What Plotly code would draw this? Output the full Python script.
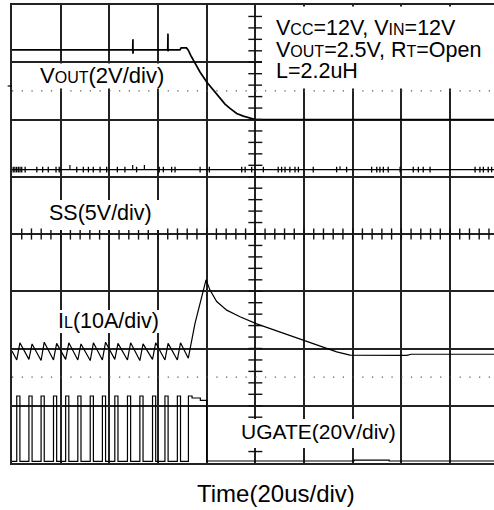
import numpy as np
import plotly.graph_objects as go

# ---------------- data ----------------
# time in microseconds (20 us/div, trigger at screen centre)
VOUT_T = [-100, -50.4, -50.3, -50.3, -50.2, -36.0, -35.9, -35.9, -35.8, -31.0, -30.5,
          -28.3, -27.55, -26.56, -24.79, -22.74, -19.99, -17.27, -14.52, -12.46,
          -10.41, -7.66, -4.94, -2.89, 0.0, 98.1]
VOUT_V = [2.43, 2.43, 2.80, 2.30, 2.43, 2.43, 3.00, 2.38, 2.43, 2.43, 2.50,
          2.50, 2.42, 2.24, 1.95, 1.66, 1.31, 1.02, 0.73, 0.54,
          0.39, 0.21, 0.12, 0.06, 0.0, 0.0]

SS_T = [-100, 98.1]
SS_V = [0.0, 0.0]
SS_NOISE_T = [-99.5, -98.8, -98.1, -97.4, -96.7, -96.0, -94.6, -89.8, -87.4, -85.1, -81.9,
              -80.6, -73.4, -70.7, -68.6, -66.6, -63.8, -61.1, -56.7, -53.6, -48.8, -39.5,
              -37.8, -34.4, -33.0, -22.7, -18.9, -5.6, -4.2, -1.5, 3.3, 9.4, 10.8, 12.2,
              14.2, 16.3, 17.7, 23.8, 33.4, 37.5, 47.8, 49.9, 51.2, 52.6, 54.6, 59.5, 64.9,
              67.0, 69.0, 71.8, 90.3, 92.3, 93.7, 95.7, 97.1]
SS_SPIKE_T = [-76.2, -50.4, -45.6, 34.8]
SS_SPIKE_V = [0.4, 0.4, 0.4, 0.3]

UGATE_RISE_T = [-98.05, -93.05, -88.05, -82.95, -77.95, -72.95, -67.85, -62.85, -57.75,
                -52.55, -47.45, -42.25, -37.15, -32.05]
UGATE_FALL_T = [-96.75, -91.75, -86.75, -81.65, -76.65, -71.65, -66.55, -61.55, -56.45,
                -51.25, -46.15, -40.95, -35.85, -30.75]
UGATE_HIGH_V = 22.8
UGATE_TAIL_T = [-27.5, -27.5, -26.0, -26.0, -22.6, -22.6, -20.0, -20.0, -19.8, 40.5, 40.5, 55.0, 55.0, 98.1]
UGATE_TAIL_V = [0.0, 22.8, 22.8, 22.1, 22.1, 21.3, 21.3, -0.2, 0.1, 0.1, 0.4, 0.4, 0.1, 0.1]

IL_START_A = 0.75
IL_VALLEY_A = [-0.8, -0.7, -0.9, -0.8, -0.7, -0.8, -0.9, -0.8, -0.7, -0.8, -0.9, -0.7, -0.8, -0.8]
IL_PEAK_A = [2.2, 2.0, 2.3, 2.1, 2.2, 2.0, 2.2, 2.3, 2.1, 2.2, 2.0, 2.2, 2.1, 2.2]
IL_TAIL_T = [-27.55, -24.79, -20.27, -18.63, -15.88, -11.77, -6.30, 0.56, 10.14, 19.71,
             26.58, 33.44, 38.91, 62.3, 64.0, 98.1]
IL_TAIL_A = [-0.5, 5.6, 13.2, 11.4, 9.4, 7.9, 6.75, 5.5, 4.1, 2.7, 1.6, 0.6, 0.05, 0.0, 0.2, 0.2]

# channel scale (units/div) and screen offset (div)
VOUT_SCALE, VOUT_OFF = 2.0, 2.0
SS_SCALE, SS_OFF = 5.0, 1.125
IL_SCALE, IL_OFF = 10.0, -2.12
UG_SCALE, UG_OFF = 20.0, -3.97

# ---------------- build ----------------
def to_div(vals, scale, off):
    return [None if v is None else off + v / scale for v in vals]

X_MAX = 98.08
PXX = 2.4334      # px per us
PXY = 57.25       # px per div


def tx(px):
    return (px - 255.33) / PXX


def dy(py):
    return (234 - py) / PXY


fig = go.Figure()
LINE = dict(color="black", width=1.2)

# SS
fig.add_trace(go.Scatter(x=SS_T, y=to_div(SS_V, SS_SCALE, SS_OFF), mode="lines",
                         line=dict(color="black", width=1.3)))
fig.add_trace(go.Scatter(x=SS_NOISE_T, y=to_div([0.0] * len(SS_NOISE_T), SS_SCALE, SS_OFF),
                         mode="markers",
                         marker=dict(symbol="line-ns", size=4, line=dict(color="black", width=1.3))))
sx, sy = [], []
for t, v in zip(SS_SPIKE_T, SS_SPIKE_V):
    sx += [t, t, None]
    sy += [0.0, v, None]
fig.add_trace(go.Scatter(x=sx, y=to_div(sy, SS_SCALE, SS_OFF), mode="lines", line=LINE))

# VOUT
fig.add_trace(go.Scatter(x=VOUT_T, y=to_div(VOUT_V, VOUT_SCALE, VOUT_OFF), mode="lines",
                         line=dict(color="black", width=1.7)))

# IL
il_t = [-100]
il_a = [IL_START_A]
for r, f, va, pk in zip(UGATE_RISE_T, UGATE_FALL_T, IL_VALLEY_A, IL_PEAK_A):
    il_t += [r, f]
    il_a += [va, pk]
il_t += IL_TAIL_T
il_a += IL_TAIL_A
fig.add_trace(go.Scatter(x=il_t, y=to_div(il_a, IL_SCALE, IL_OFF), mode="lines", line=LINE))

# UGATE
ug_t = [-100]
ug_v = [0.0]
for r, f in zip(UGATE_RISE_T, UGATE_FALL_T):
    ug_t += [r, r, f, f]
    ug_v += [0.0, UGATE_HIGH_V, UGATE_HIGH_V, 0.0]
ug_t += UGATE_TAIL_T
ug_v += UGATE_TAIL_V
fig.add_trace(go.Scatter(x=ug_t, y=to_div(ug_v, UG_SCALE, UG_OFF), mode="lines", line=LINE))

# graticule minor ticks on centre lines
hx = np.arange(-96, X_MAX, 4.0)
fig.add_trace(go.Scatter(x=hx, y=[0] * len(hx), mode="markers",
                         marker=dict(symbol="line-ns", size=8, line=dict(color="#111", width=1.4))))
vy = np.arange(-3.8, 3.81, 0.2)
fig.add_trace(go.Scatter(x=[0] * len(vy), y=vy, mode="markers",
                         marker=dict(symbol="line-ew", size=10, line=dict(color="#111", width=1.4))))

shapes = []
for yv in (2.5, -2.5):
    shapes.append(dict(type="line", xref="x", yref="y", x0=-100, x1=X_MAX, y0=yv, y1=yv,
                       line=dict(color="#555", width=1.2, dash="1.2px,8.53px"), layer="between"))
# channel marker on left edge
shapes.append(dict(type="line", xref="paper", yref="y", x0=-0.009, x1=0, y0=dy(86), y1=dy(86),
                   line=dict(color="black", width=1.2)))
# white label backgrounds
for (x0, x1, y0, y1) in [(36, 172, 63.5, 88.5), (42, 163, 200, 230), (52, 162, 310, 333),
                         (236, 399, 419, 448), (262, 494, 6.5, 88.5)]:
    shapes.append(dict(type="rect", xref="x", yref="y", x0=tx(x0), x1=tx(x1), y0=dy(y1), y1=dy(y0),
                       fillcolor="white", line=dict(width=0), layer="above"))

FONT = dict(family="Arial, Liberation Sans, sans-serif", size=21, color="black")
SM = '<span style="font-size:16px">%s</span>'
ann = []


def lab(text, px, py, size=21):
    ann.append(dict(text=text, x=tx(px), y=dy(py), xref="x", yref="y", xanchor="left",
                    yanchor="middle", showarrow=False, borderpad=0,
                    font=dict(FONT, size=size)))


lab("V" + SM % "OUT" + "(2V/div)", 39, 75, 22)
lab("SS(5V/div)", 48, 213, 21.5)
lab("I" + SM % "L" + "(10A/div)", 57, 321, 21.5)
lab("UGATE(20V/div)", 240, 431, 21)
lab("V" + SM % "CC" + "=12V, V" + SM % "IN" + "=12V", 275, 28, 21.5)
lab("V" + SM % "OUT" + "=2.5V, R" + SM % "T" + "=Open", 275, 49.5, 21.5)
lab("L=2.2uH", 275, 71, 21.5)
ann.append(dict(text="Time(20us/div)", x=tx(276), y=(463 - 493) / 458, xref="x", yref="paper",
                xanchor="center", yanchor="middle", showarrow=False,
                font=dict(FONT, size=24)))

AX = dict(showgrid=True, gridcolor="#222", gridwidth=1.5, showticklabels=False, ticks="",
          zeroline=False, showline=True, linecolor="#222", linewidth=1.8, fixedrange=True)
fig.update_layout(
    width=494, height=510,
    margin=dict(l=12, r=0, t=5, b=47),
    paper_bgcolor="white", plot_bgcolor="white",
    showlegend=False,
    xaxis=dict(AX, range=[-100, X_MAX], dtick=20, tick0=-100, mirror=True),
    yaxis=dict(AX, range=[-4, 4], dtick=1, tick0=-4, mirror=False),
    shapes=shapes, annotations=ann,
)
fig.write_html("out.html", config={"displayModeBar": False},
               post_script="document.body.style.margin='0';document.body.style.overflow='hidden';")
